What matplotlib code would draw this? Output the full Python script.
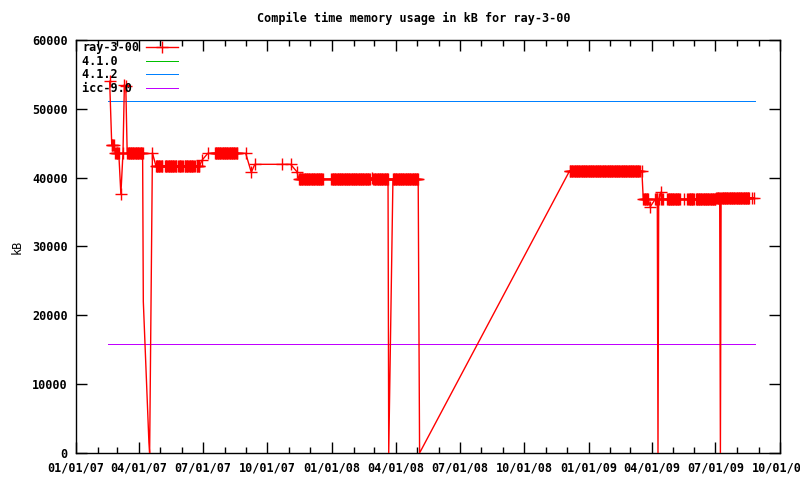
import pandas as pd
import matplotlib.pyplot as plt
import matplotlib.dates as mdates

# ray-3-00 compile memory (kB): (first day, last day, kB) - a range = one build per day, same size
ray_runs = [
    ("2007-02-18", "2007-02-18", 54000),
    ("2007-02-21", "2007-02-24", 44700),
    ("2007-02-26", "2007-03-03", 43600),
    ("2007-03-06", "2007-03-06", 37600),
    ("2007-03-09", "2007-03-09", 43600),
    ("2007-03-11", "2007-03-11", 53500),
    ("2007-03-13", "2007-03-13", 53300),
    ("2007-03-15", "2007-04-06", 43600),
    ("2007-04-07", "2007-04-07", 22000),
    ("2007-04-15", "2007-04-15", 1500),
    ("2007-04-16", "2007-04-16", 0),
    ("2007-04-20", "2007-04-20", 43600),
    ("2007-04-25", "2007-05-04", 41700),
    ("2007-05-08", "2007-05-24", 41700),
    ("2007-05-27", "2007-06-02", 41700),
    ("2007-06-05", "2007-06-19", 41700),
    ("2007-06-22", "2007-06-26", 41700),
    ("2007-06-30", "2007-06-30", 42570),
    ("2007-07-08", "2007-07-08", 43540),
    ("2007-07-18", "2007-08-19", 43540),
    ("2007-08-31", "2007-08-31", 43540),
    ("2007-09-08", "2007-09-08", 40780),
    ("2007-09-13", "2007-09-13", 41940),
    ("2007-10-22", "2007-10-22", 41940),
    ("2007-11-03", "2007-11-03", 41940),
    ("2007-11-12", "2007-11-12", 40870),
    ("2007-11-15", "2007-12-19", 39800),
    ("2007-12-31", "2008-02-24", 39800),
    ("2008-02-27", "2008-02-27", 40000),
    ("2008-02-29", "2008-03-21", 39800),
    ("2008-03-22", "2008-03-22", 0),
    ("2008-03-28", "2008-05-03", 39800),
    ("2008-05-05", "2008-05-05", 0),
    ("2008-12-05", "2009-03-15", 41000),
    ("2009-03-18", "2009-03-18", 41000),
    ("2009-03-20", "2009-03-27", 36850),
    ("2009-03-30", "2009-03-30", 35790),
    ("2009-04-06", "2009-04-09", 36850),
    ("2009-04-10", "2009-04-10", 0),
    ("2009-04-11", "2009-04-11", 36850),
    ("2009-04-14", "2009-04-14", 37880),
    ("2009-04-15", "2009-04-17", 36850),
    ("2009-04-23", "2009-05-11", 36850),
    ("2009-05-17", "2009-05-17", 36850),
    ("2009-05-21", "2009-05-21", 36850),
    ("2009-05-23", "2009-05-31", 36850),
    ("2009-06-03", "2009-07-01", 36850),
    ("2009-07-02", "2009-07-07", 37090),
    ("2009-07-08", "2009-07-08", 0),
    ("2009-07-09", "2009-08-18", 37090),
    ("2009-08-22", "2009-08-22", 37090),
    ("2009-08-25", "2009-08-25", 37090),
]

# reference compilers (flat lines)
ref_span = ["2007-02-16", "2009-08-26"]
gcc_410 = 51100
gcc_412 = 51100
icc_90 = 15800

dates, kb = [], []
for start, end, v in ray_runs:
    for d in pd.date_range(start, end, freq="D"):
        dates.append(d)
        kb.append(v)
span = pd.to_datetime(ref_span)

plt.rcParams["font.family"] = "DejaVu Sans Mono"
plt.rcParams["font.size"] = 8.5
plt.rcParams["font.weight"] = "bold"

fig = plt.figure(figsize=(8, 4.8), dpi=100)
ax = fig.add_axes([76 / 800, 27 / 480, 704 / 800, 413 / 480])

# gnuplot leaves out points in the dips (near the border)
marks = [i for i, v in enumerate(kb) if v > 30000]
ax.plot(dates, kb, color="#ff0000", lw=1, marker="+", ms=9, mew=1,
        markevery=marks, label="ray-3-00", zorder=4)
ax.plot(span, [gcc_410, gcc_410], color="#00c000", lw=0.72, label="4.1.0   ",
        antialiased=False)
ax.plot(span, [gcc_412, gcc_412], color="#0080ff", lw=0.72, label="4.1.2   ",
        antialiased=False)
ax.plot(span, [icc_90, icc_90], color="#c000ff", lw=0.72, label="icc-9.0 ",
        antialiased=False)

ax.set_xlim(pd.Timestamp("2007-01-01"), pd.Timestamp("2009-10-01"))
ax.set_ylim(0, 60000)
ax.set_yticks(range(0, 60001, 10000))
ax.xaxis.set_major_locator(mdates.MonthLocator(bymonth=[1, 4, 7, 10]))
ax.xaxis.set_minor_locator(mdates.MonthLocator())
ax.xaxis.set_major_formatter(mdates.DateFormatter("%m/%d/%y"))
ax.tick_params(which="both", direction="in", top=True, right=True, width=1)
ax.tick_params(which="major", length=8, pad=6)
ax.tick_params(which="minor", length=4)
for s in ax.spines.values():
    s.set_linewidth(1)

ax.set_ylabel("kB", labelpad=6)
fig.text(414 / 800, 1 - 18 / 480, "Compile time memory usage in kB for ray-3-00",
         ha="center", va="center")

ax.legend(loc="upper left", bbox_to_anchor=(0.005, 1.003), frameon=False,
          markerfirst=False, handlelength=2.7, handletextpad=0.6,
          labelspacing=0.05, borderaxespad=0.1, borderpad=0.1)

fig.savefig("out.png", dpi=100)
